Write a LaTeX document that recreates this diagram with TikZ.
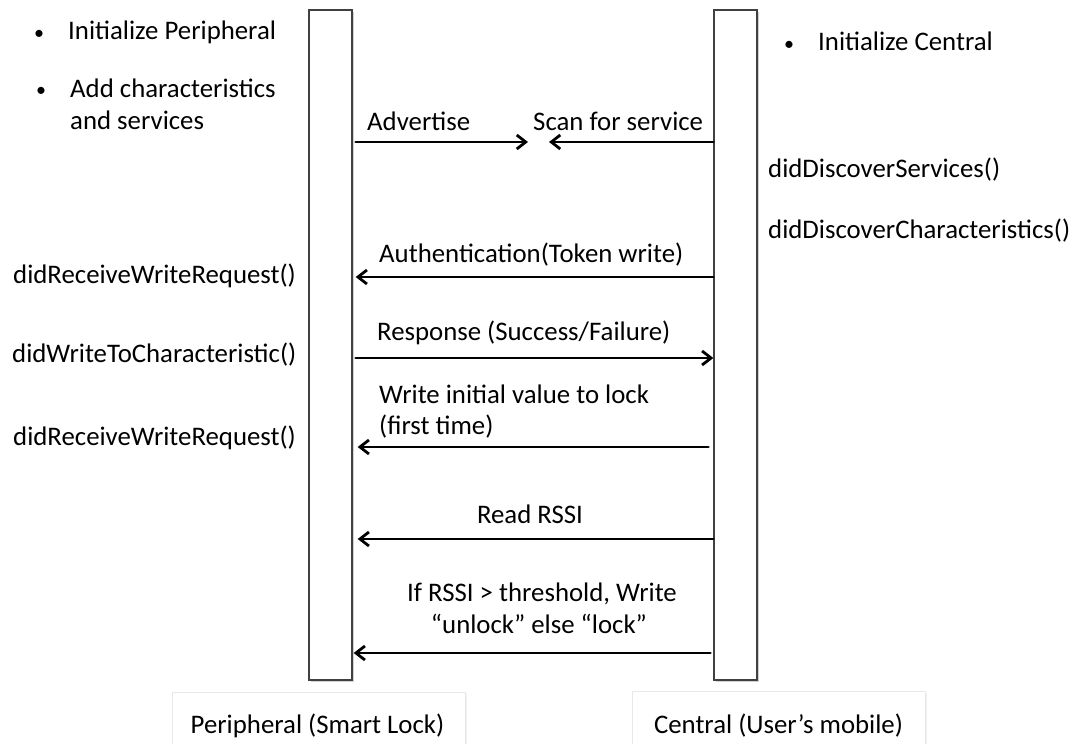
\documentclass[tikz,border=0pt]{standalone}
\usepackage{fontspec}
\setmainfont{Carlito}
\usetikzlibrary{arrows.meta,calc}

\tikzset{
  lifeline/.style={draw=black!75, line width=1.3pt, fill=white, minimum width=43pt, minimum height=670pt, inner sep=0pt},
  barshadow/.style={draw=black!18, line width=1.6pt},
  actorbox/.style={draw=black!9, line width=1pt, fill=white, inner sep=0pt},
  txt/.style={inner sep=0pt, font=\fontsize{26.8}{32}\selectfont},
  lft/.style={txt, anchor=base west},
  ctr/.style={txt, anchor=base},
  bul/.style={inner sep=0pt, anchor=base, font=\fontsize{20}{20}\selectfont},
  msg/.style={line width=2.8pt, line cap=round, -{Straight Barb[length=9pt,width=14pt,line width=2.8pt]}}
}

\begin{document}
\begin{tikzpicture}[x=1pt, y=-1pt]
\useasboundingbox (0,0) rectangle (1087,744);
\fill[white] (0,0) rectangle (1087,744);

% lifeline bars with a soft edge shadow
\draw[barshadow] (353.5,12) -- (353.5,681.5) -- (311,681.5);
\draw[barshadow] (758.5,12) -- (758.5,681.5) -- (716,681.5);
\node[lifeline] (P) at (330.5,345) {};
\node[lifeline] (C) at (735.5,345) {};

% actor boxes at the bottom
\fill[black!6] (174,694) rectangle (467,760);
\fill[black!6] (634,693) rectangle (927,760);
\node[actorbox, minimum width=293pt, minimum height=68pt, anchor=north west] (pbox) at (172,692) {};
\node[actorbox, minimum width=293pt, minimum height=68pt, anchor=north west] (cbox) at (632,691) {};
\node[ctr] (plabel) at (317.5,733) {Peripheral (Smart Lock)};
\node[ctr] (clabel) at (778.5,733) {Central (User’s mobile)};

% setup notes
\node[bul] (b1) at (39,39) {•};
\node[lft] (initp) at (68,39) {Initialize Peripheral};
\node[bul] (b2) at (41,96) {•};
\node[lft] (addc) at (70,97) {Add characteristics};
\node[lft] (addc2) at (70,129) {and services};
\node[bul] (b3) at (789,50) {•};
\node[lft] (initc) at (818,50) {Initialize Central};

% callbacks on the central side
\node[lft] (dds) at (768,177) {didDiscoverServices()};
\node[lft] (ddc) at (768,238) {didDiscoverCharacteristics()};

% callbacks on the peripheral side
\node[lft] (rw1) at (13,283) {didReceiveWriteRequest()};
\node[lft] (wtc) at (12,362) {didWriteToCharacteristic()};
\node[lft] (rw2) at (13,445) {didReceiveWriteRequest()};

% message labels
\node[lft] (ladv) at (367,130) {Advertise};
\node[lft] (lscan) at (533,130) {Scan for service};
\node[lft] (lauth) at (379,262) {Authentication(Token write)};
\node[lft] (lresp) at (377,340) {Response (Success/Failure)};
\node[lft] (lwrite) at (379,403) {Write initial value to lock};
\node[lft] (lwrite2) at (379,434) {(first time)};
\node[ctr] (lread) at (530,523) {Read RSSI};
\node[ctr] (lif) at (542,601) {If RSSI > threshold, Write};
\node[ctr] (lif2) at (539,633) {“unlock” else “lock”};

% meeting points of advertising and scanning
\coordinate (advend) at (528,142);
\coordinate (scanend) at (549,142);

% messages
\draw[msg] ($(P.east |- 0,142)+(3,0)$) -- (advend);
\draw[msg] (C.west |- 0,142) -- (scanend);
\draw[msg] (C.west |- 0,277) -- ($(P.east |- 0,277)+(3,0)$);
\draw[msg] ($(P.east |- 0,358)+(3,0)$) -- (C.west |- 0,358);
\draw[msg] ($(C.west |- 0,447)+(-5,0)$) -- ($(P.east |- 0,447)+(5,0)$);
\draw[msg] (C.west |- 0,539) -- ($(P.east |- 0,539)+(5,0)$);
\draw[msg] ($(C.west |- 0,653)+(-3,0)$) -- ($(P.east |- 0,653)+(1,0)$);
\end{tikzpicture}
\end{document}
